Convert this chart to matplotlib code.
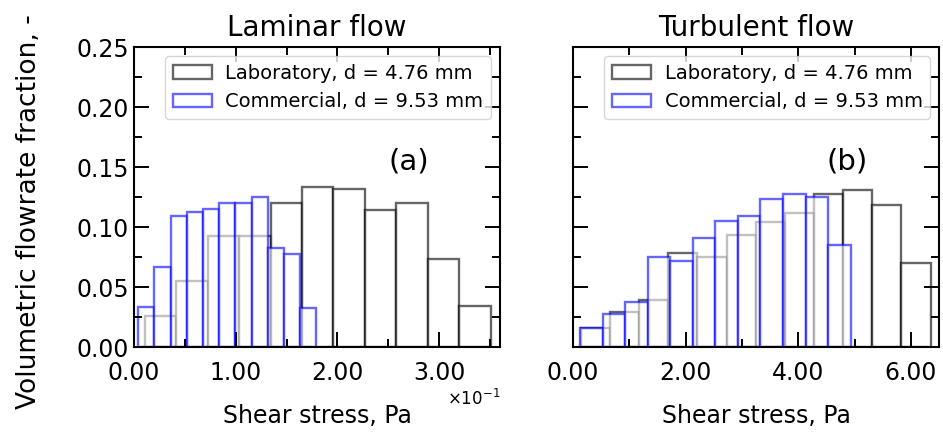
import numpy as np
import matplotlib
matplotlib.use("Agg")
import matplotlib.pyplot as plt
from matplotlib import ticker

# volumetric flowrate fraction per shear-stress bin (bins are evenly spaced
# between the first and last edge, as np.histogram gives them)
lam_lab_range = (0.0108, 0.3507)      # Pa
lam_lab = [0.026, 0.055, 0.0925, 0.0925, 0.120, 0.1336, 0.132, 0.114, 0.120, 0.073, 0.034]
lam_com_range = (0.0042, 0.1793)
lam_com = [0.0336, 0.0664, 0.1094, 0.1128, 0.115, 0.1197, 0.1197, 0.1247, 0.0828, 0.0775, 0.0322]

tur_lab_range = (0.14, 6.35)
tur_lab = [0.0161, 0.0289, 0.0392, 0.0781, 0.0753, 0.0936, 0.1039, 0.1119, 0.1275, 0.1308, 0.1183, 0.0703]
tur_com_range = (0.125, 4.93)
tur_com = [0.0156, 0.0275, 0.0372, 0.0747, 0.0719, 0.0906, 0.1053, 0.1092, 0.123, 0.1278, 0.1247, 0.085]

lab_label = "Laboratory, d = 4.76 mm"
com_label = "Commercial, d = 9.53 mm"


class SciFixed(ticker.ScalarFormatter):
    def _set_format(self):
        self.format = "%.2f"


def histbars(ax, rng, h, color, label):
    edges = np.linspace(rng[0], rng[1], len(h) + 1)
    ax.bar(edges[:-1], h, width=np.diff(edges), align="edge", color="white",
           edgecolor=color, alpha=0.6, linewidth=1.7, label=label)


fig, (ax1, ax2) = plt.subplots(1, 2, figsize=(9.43, 4.37), dpi=100, sharey=True)
fig.subplots_adjust(left=0.1421, right=0.9958, top=0.8924, bottom=0.2059, wspace=0.1995)

panels = [
    (ax1, lam_lab_range, lam_lab, lam_com_range, lam_com, "Laminar flow", "(a)", 0.36),
    (ax2, tur_lab_range, tur_lab, tur_com_range, tur_com, "Turbulent flow", "(b)", 6.5),
]
for ax, lr, lh, cr, ch, title, tag, xmax in panels:
    histbars(ax, lr, lh, "black", lab_label)
    histbars(ax, cr, ch, "blue", com_label)
    ax.set_xlim(0, xmax)
    ax.set_ylim(0, 0.25)
    ax.set_title(title, fontsize=20, pad=8)
    ax.set_xlabel("Shear stress, Pa", fontsize=17, labelpad=14)
    ax.text(0.75, 0.62, tag, transform=ax.transAxes, fontsize=21, ha="center", va="center")
    ax.legend(loc="upper right", fontsize=14, borderaxespad=0.45, handletextpad=0.7)
    ax.yaxis.set_major_locator(ticker.MultipleLocator(0.05))
    ax.yaxis.set_minor_locator(ticker.MultipleLocator(0.025))
    ax.yaxis.set_major_formatter(ticker.FormatStrFormatter("%.2f"))
    ax.tick_params(which="both", direction="in", top=True, right=True, labelsize=17, width=1.4)
    ax.tick_params(which="major", length=11)
    ax.tick_params(which="minor", length=6)
    for s in ax.spines.values():
        s.set_linewidth(1.5)
    ax.tick_params(axis="x", pad=10)

ax1.xaxis.set_major_locator(ticker.MultipleLocator(0.1))
ax1.xaxis.set_minor_locator(ticker.MultipleLocator(0.05))
fmt = SciFixed(useMathText=True)
fmt.set_powerlimits((-1, -1))
ax1.xaxis.set_major_formatter(fmt)
ax1.xaxis.get_offset_text().set_fontsize(12)

ax2.xaxis.set_major_locator(ticker.MultipleLocator(2))
ax2.xaxis.set_minor_locator(ticker.MultipleLocator(1))
ax2.xaxis.set_major_formatter(ticker.FormatStrFormatter("%.2f"))

fig.text(0.031, 0.515, "Volumetric flowrate fraction, -", rotation=90,
         ha="center", va="center", fontsize=19)

fig.savefig("out.png", dpi=100)
